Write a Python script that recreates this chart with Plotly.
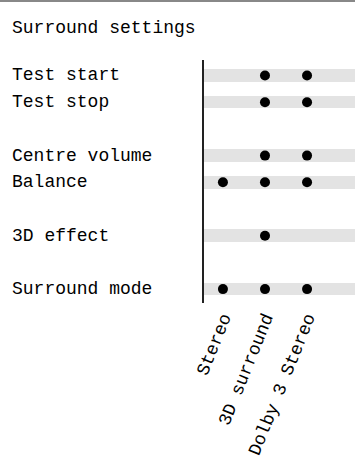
import plotly.graph_objects as go

title = "Surround settings"
modes = ["Stereo", "3D surround", "Dolby 3 Stereo"]
rows = ["Test start", "Test stop", "", "Centre volume", "Balance", "", "3D effect", "", "Surround mode"]
# availability per row: 1 = available for that mode
avail = {
    "Test start":    [0, 1, 1],
    "Test stop":     [0, 1, 1],
    "Centre volume": [0, 1, 1],
    "Balance":       [1, 1, 1],
    "3D effect":     [0, 1, 0],
    "Surround mode": [1, 1, 1],
}

FONT = "Liberation Mono"
W, H = 355, 459
ML, MR, MT, MB = 204, 0, 60, 156
XR = [-0.45, 3.14]
YR = [8.52, -0.58]

fig = go.Figure()

labelled = [i for i, r in enumerate(rows) if r]
fig.add_trace(go.Bar(
    orientation="h",
    y=labelled,
    x=[XR[1] - XR[0]] * len(labelled),
    base=XR[0],
    width=0.47,
    marker=dict(color="#e3e3e3", line=dict(width=0)),
    hoverinfo="skip",
    showlegend=False,
))

xs, ys = [], []
for i, r in enumerate(rows):
    if r:
        for j, v in enumerate(avail[r]):
            if v:
                xs.append(j)
                ys.append(i)
fig.add_trace(go.Scatter(
    x=xs, y=ys, mode="markers",
    marker=dict(color="black", size=10),
    showlegend=False, hoverinfo="skip",
))

pw = W - ML - MR
ph = H - MT - MB
for i, r in enumerate(rows):
    if r:
        fig.add_annotation(
            text=r, xref="paper", yref="y", x=(10 - ML) / pw, y=i,
            xanchor="left", yanchor="middle", showarrow=False,
            font=dict(family=FONT, size=18, color="black"),
        )

fig.add_annotation(
    text=title, xref="paper", yref="paper", x=(10 - ML) / pw,
    y=1 + (MT - 28) / ph, xanchor="left", yanchor="middle", showarrow=False,
    font=dict(family=FONT, size=18, color="black"),
)
fig.add_shape(type="line", xref="paper", yref="paper",
              x0=-ML / pw, x1=1, y0=1 + (MT - 1) / ph, y1=1 + (MT - 1) / ph,
              line=dict(color="#888888", width=2))

fig.update_layout(
    width=W, height=H,
    margin=dict(l=ML, r=MR, t=MT, b=MB, autoexpand=False),
    paper_bgcolor="white", plot_bgcolor="white",
    bargap=0,
    xaxis=dict(range=XR, tickmode="array", tickvals=list(range(len(modes))),
               ticktext=modes, tickangle=-68, showgrid=False, zeroline=False,
               showline=False, ticks="", automargin=False,
               tickfont=dict(family=FONT, size=18, color="black")),
    yaxis=dict(range=YR, showticklabels=False, showgrid=False, zeroline=False,
               showline=True, linecolor="#222222", linewidth=1.5, ticks="",
               automargin=False),
)

fig.write_html("out.html", config={"displayModeBar": False},
               post_script="document.body.style.margin='0';")
